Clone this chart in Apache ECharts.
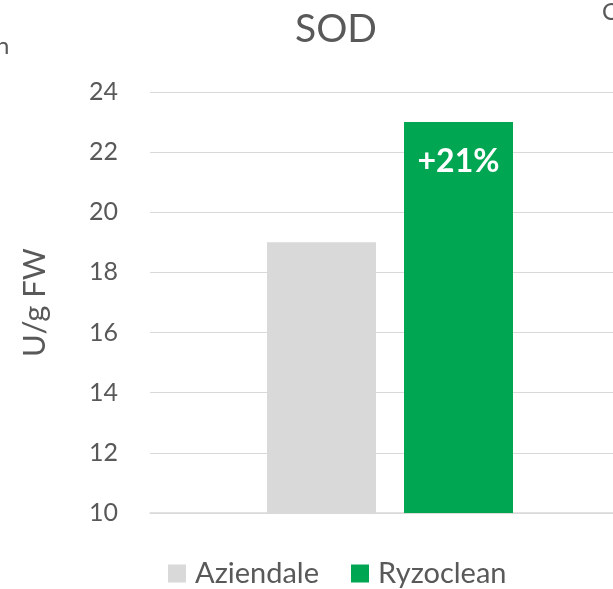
<!DOCTYPE html>
<html><head><meta charset="utf-8">
<script src="https://cdn.jsdelivr.net/npm/echarts@6/dist/echarts.min.js"></script>
<style>html,body{margin:0;padding:0;background:#fff;overflow:hidden}#c{width:630px;height:589px}</style>
</head><body><div id="c"></div>
<script>
var categories = ['SOD'];
var seriesNames = ['Aziendale', 'Ryzoclean'];
var aziendale = [19];
var ryzoclean = [23];
var ryzocleanLabel = ['+21%'];
var yTicks = [10, 12, 14, 16, 18, 20, 22, 24];

var font = 'Lato';
var chart = echarts.init(document.getElementById('c'), null, {renderer: 'canvas'});
chart.setOption({
  animation: false,
  title: {text: 'SOD', left: 331, top: 5, textAlign: 'center',
    textStyle: {fontFamily: font, fontSize: 39, fontWeight: 'normal', color: '#595959'}},
  graphic: [
    {type: 'text', left: -4, top: 34, style: {text: 'n', font: '24px ' + font, fill: '#595959'}},
    {type: 'text', left: 602, top: 0, style: {text: 'O', font: '24px ' + font, fill: '#595959'}}
  ],
  legend: {data: seriesNames, bottom: -4, left: 163, itemWidth: 18, itemHeight: 18, itemGap: 32, icon: 'rect',
    textStyle: {fontFamily: font, fontSize: 29, color: '#595959', padding: [0, 0, 0, 4]}},
  grid: {left: 150, right: 0, top: 92, bottom: 76, containLabel: false},
  xAxis: {type: 'category', data: categories,
    axisLine: {lineStyle: {color: '#D9D9D9', width: 1.5}}, axisTick: {show: false}, axisLabel: {show: false}},
  yAxis: {type: 'value', min: yTicks[0], max: yTicks[yTicks.length - 1], interval: 2,
    name: 'U/g FW', nameLocation: 'middle', nameGap: 100, nameRotate: 90,
    nameTextStyle: {fontFamily: font, fontSize: 31, color: '#595959'},
    axisLine: {show: false}, axisTick: {show: false},
    axisLabel: {fontFamily: font, fontSize: 25, color: '#595959', margin: 32},
    splitLine: {lineStyle: {color: '#D9D9D9', width: 1}}},
  series: [
    {name: seriesNames[0], type: 'bar', data: aziendale, barWidth: 109, barGap: '25.7%',
      itemStyle: {color: '#D9D9D9'}},
    {name: seriesNames[1], type: 'bar', data: ryzoclean, barWidth: 109,
      itemStyle: {color: '#00A651'},
      label: {show: true, position: 'insideTop', distance: 24, formatter: function (p) { return ryzocleanLabel[p.dataIndex]; },
        fontFamily: font, fontSize: 32, fontWeight: 'bold', color: '#fff'}}
  ]
});
</script></body></html>
